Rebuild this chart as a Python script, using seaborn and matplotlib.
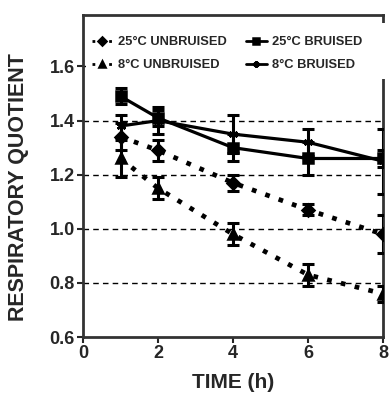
import pandas as pd
import seaborn as sns
import matplotlib.pyplot as plt
from matplotlib.patches import Rectangle

time_h = [1, 2, 4, 6, 8]

rq_25_unbruised = [1.34, 1.29, 1.17, 1.07, 0.98]
err_25_unbruised = [0.05, 0.04, 0.03, 0.02, 0.07]
rq_8_unbruised = [1.26, 1.15, 0.98, 0.83, 0.76]
err_8_unbruised = [0.07, 0.04, 0.04, 0.04, 0.03]
rq_25_bruised = [1.49, 1.41, 1.30, 1.26, 1.26]
err_25_bruised = [0.03, 0.03, 0.05, 0.06, 0.03]
rq_8_bruised = [1.38, 1.40, 1.35, 1.32, 1.25]
err_8_bruised = [0.04, 0.05, 0.07, 0.05, 0.12]

labels = ["25°C UNBRUISED", "8°C UNBRUISED", "25°C BRUISED", "8°C BRUISED"]
values = [rq_25_unbruised, rq_8_unbruised, rq_25_bruised, rq_8_bruised]
errors = [err_25_unbruised, err_8_unbruised, err_25_bruised, err_8_bruised]

sns.set_style("ticks")
plt.rcParams["font.family"] = ["Liberation Sans", "DejaVu Sans"]
plt.rcParams["font.weight"] = "bold"

fig = plt.figure(figsize=(3.9, 3.97), dpi=100)
ax = fig.add_axes([0.213, 0.151, 0.769, 0.811])

# marker, dash pattern, line width per series
styles = {
    labels[0]: ("D", (0, (1.0, 2.0)), 3.4),
    labels[1]: ("^", (0, (1.0, 2.0)), 3.4),
    labels[2]: ("s", "-", 2.3),
    labels[3]: ((6, 2, 0), "-", 2.3),
}

for lab, vals, errs in zip(labels, values, errors):
    mk, ls, lw = styles[lab]
    df = pd.DataFrame({"time": time_h, "rq": vals})
    sns.lineplot(data=df, x="time", y="rq", color="black", marker=mk,
                 markersize=6.5, markeredgecolor="black", markeredgewidth=1.8,
                 linestyle=ls, linewidth=lw, label=lab, ax=ax, zorder=3,
                 legend=False)
    ax.errorbar(time_h, vals, yerr=errs, fmt="none", ecolor="black",
                elinewidth=2.2, capsize=4, capthick=2.2, zorder=3)

ax.set_xlim(0, 8)
ax.set_ylim(0.6, 1.79)
ax.set_xticks([0, 2, 4, 6, 8])
ax.set_yticks([0.6, 0.8, 1.0, 1.2, 1.4, 1.6])
ax.set_yticklabels(["0.6", "0.8", "1.0", "1.2", "1.4", "1.6"])
for yv in [0.8, 1.0, 1.2, 1.4, 1.6]:
    ax.axhline(yv, color="black", linestyle=(0, (4, 3)), linewidth=1, zorder=1)

for s in ax.spines.values():
    s.set_linewidth(2)
    s.set_color("#333333")
ax.tick_params(axis="both", direction="out", length=4, width=1.5,
               labelsize=13, pad=2)
for t in ax.get_xticklabels() + ax.get_yticklabels():
    t.set_fontweight("bold")

ax.set_xlabel("TIME (h)", fontsize=15, fontweight="bold", labelpad=8)
ax.set_ylabel("RESPIRATORY QUOTIENT", fontsize=15.5, fontweight="bold")
ax.yaxis.set_label_coords(-0.18, 0.466)

# white box behind the legend, it hides the grid line and part of the right spine
ax.add_patch(Rectangle((0.01, 0.80), 1.02, 0.175, transform=ax.transAxes,
                       facecolor="white", edgecolor="none", clip_on=False,
                       zorder=4))

hmap = {l.get_label(): l for l in ax.get_lines() if l.get_label() in labels}
leg = ax.legend([hmap[l] for l in labels], labels,
                ncol=2, loc="upper left", bbox_to_anchor=(0.013, 0.95),
                frameon=False, handlelength=1.6, borderpad=0.4,
                handletextpad=0.4, columnspacing=1.5, borderaxespad=0.0,
                labelspacing=0.85, prop={"weight": "bold", "size": 9.3})
leg.set_zorder(5)
for h in leg.legend_handles:
    h.set_markersize(4.5)
    h.set_linewidth(2)

fig.savefig("out.png", dpi=100)
